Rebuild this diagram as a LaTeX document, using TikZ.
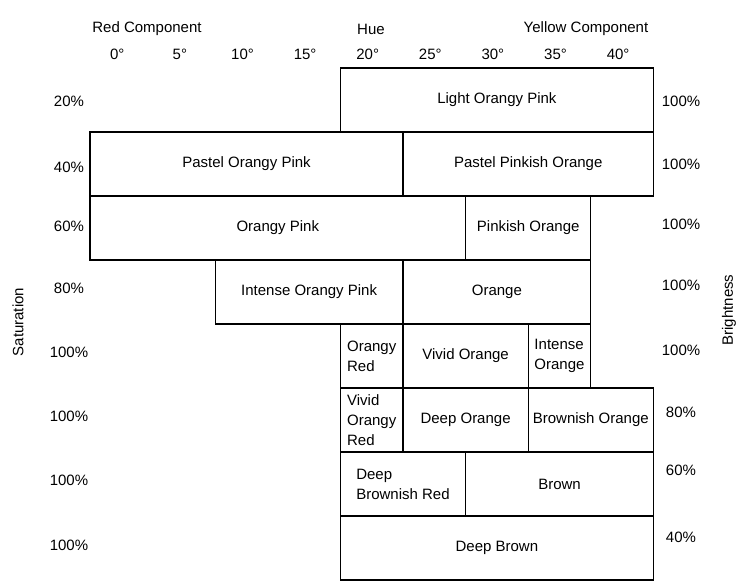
\documentclass[tikz,border=0pt]{standalone}
\usepackage{fontspec}
\setmainfont{Liberation Sans}
\usetikzlibrary{positioning}

\begin{document}
\begin{tikzpicture}[x=1pt, y=-1pt]
    % Styles
    \tikzstyle{cell} = [rectangle, draw, line width=1.2pt, align=left, inner sep=2pt, outer sep=0pt, minimum height=64pt, font=\fontsize{15}{20}\selectfont, anchor=north west]
    \tikzset{span/.style={minimum width=#1*62.6pt}}
    \tikzstyle{axis} = [font=\fontsize{15}{18}\selectfont]
    \tikzstyle{pct} = [font=\fontsize{15}{18}\selectfont]

    \useasboundingbox (0,0) rectangle (749,584);

    % Axis texts
    \node [axis] (red) at (147,29) {Red Component};
    \node [axis] (hue) at (371,29) {Hue};
    \node [axis] (yellow) at (586,29) {Yellow Component};
    \foreach \d [count=\i from 0] in {0,5,...,40}
        \node [axis] (t\d) at ({90+(\i+0.5)*62.6-4},54) {\d°};
    \node [axis, rotate=90] (sat) at (18,322) {Saturation};
    \node [axis, rotate=90] (bri) at (729,310) {Brightness};

    % Saturation and brightness
    \foreach \y/\p [count=\i] in {101/20\%, 167/40\%, 226/60\%, 288/80\%, 352/100\%, 416/100\%, 480/100\%, 545/100\%}
        \node [pct] (s\i) at (69,\y) {\p};
    \foreach \y/\p [count=\i] in {101/100\%, 164/100\%, 224/100\%, 285/100\%, 350/100\%, 412/80\%, 470/60\%, 537/40\%}
        \node [pct] (b\i) at (681,\y) {\p};

    % Nodes
    \node [cell, span=5] (lop) at (340.4,68) {Light Orangy Pink};

    \node [cell, span=5] (pop) at (90,132) {Pastel Orangy Pink};
    \node [cell, span=4, right=0pt of pop] (ppo) {Pastel Pinkish Orange};

    \node [cell, span=6] (op) at (90,196) {Orangy Pink};
    \node [cell, span=2, right=0pt of op] (pko) {Pinkish Orange};

    \node [cell, span=3] (iop) at (215.2,260) {Intense Orangy Pink};
    \node [cell, span=3, right=0pt of iop] (ora) {Orange};

    \node [cell, span=1] (ored) at (340.4,324) {Orangy\\Red};
    \node [cell, span=2, right=0pt of ored] (vo) {Vivid Orange};
    \node [cell, span=1, right=0pt of vo] (io) {Intense\\Orange};

    \node [cell, span=1] (vor) at (340.4,388) {Vivid\\Orangy\\Red};
    \node [cell, span=2, right=0pt of vor] (dpo) {Deep Orange};
    \node [cell, span=2, right=0pt of dpo] (bo) {Brownish Orange};

    \node [cell, span=2] (dbr) at (340.4,452) {Deep\\Brownish Red};
    \node [cell, span=3, right=0pt of dbr] (brn) {Brown};

    \node [cell, span=5] (db) at (340.4,516) {Deep Brown};
\end{tikzpicture}
\end{document}
